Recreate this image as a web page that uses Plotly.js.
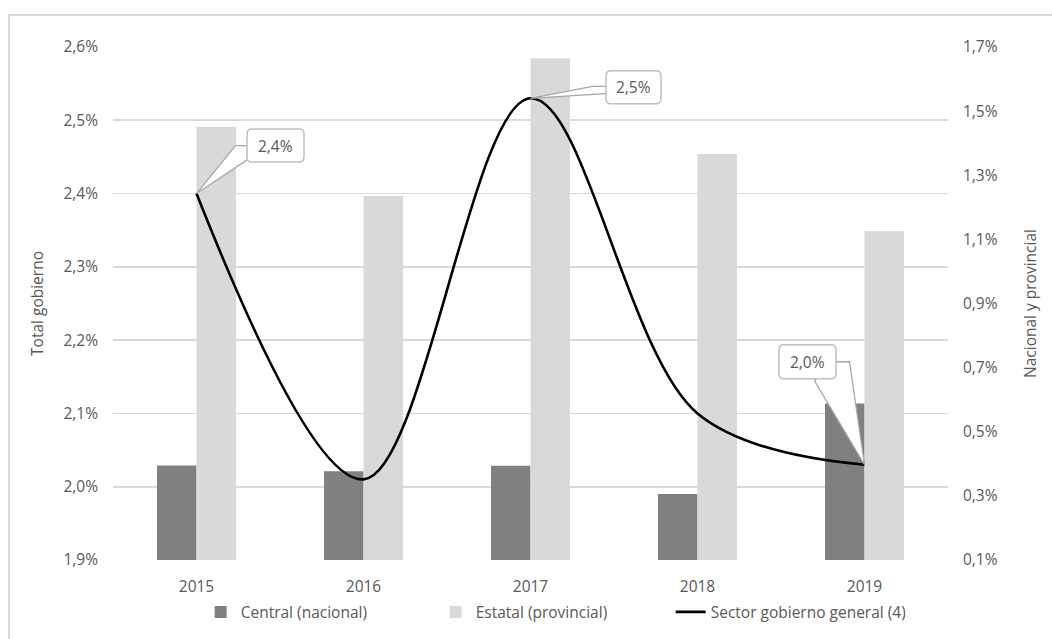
<!DOCTYPE html>
<html>
<head>
<meta charset="utf-8">
<script src="https://cdn.plot.ly/plotly-3.0.1.min.js"></script>
<style>
  html, body { margin: 0; padding: 0; background: #fff; overflow: hidden; width: 1052px; height: 639px; }
  #frame { position: absolute; left: 8px; top: 14px; width: 1100px; height: 700px; border: 2px solid #d9d9d9; box-sizing: border-box; }
  #chart { position: absolute; left: 0; top: 0; width: 1052px; height: 639px; }
</style>
</head>
<body>
<div id="frame"></div>
<div id="chart"></div>
<script>
// Gasto por nivel de gobierno, % del PIB
const years = ['2015', '2016', '2017', '2018', '2019'];
const central = [0.395, 0.377, 0.394, 0.306, 0.588];   // Central (nacional), eje derecho
const estatal = [1.451, 1.235, 1.665, 1.366, 1.126];   // Estatal (provincial), eje derecho
const general = [2.40, 2.01, 2.53, 2.10, 2.03];        // Sector gobierno general, eje izquierdo
const labelledPoints = [0, 2, 4];

// Callout geometry, pixels relative to each labelled point (y up)
const calloutBox = [
  { dx: 79, dy: 48, w: 57, h: 33 },
  { dx: 103, dy: 11, w: 55, h: 33 },
  { dx: -57, dy: 103, w: 57, h: 34 }
];
const calloutWedge = [
  [[0, 0], [39, 48], [54, 48], [54, 36]],
  [[0, 0], [62, 12], [78, 12], [78, 5]],
  [[0, 0], [-15, 103], [-32, 103], [-50, 84]]
];

const textColor = '#595959';
const fontFamily = '"Open Sans", "Noto Sans", sans-serif';
const fontSize = 15.5;

function fmtPct(v) { return v.toFixed(1).replace('.', ',') + '%'; }

function roundedRect(cx, cy, w, h, r) {
  const l = cx - w / 2, rt = cx + w / 2, t = cy + h / 2, b = cy - h / 2;
  return 'M' + (l + r) + ',' + t +
    ' L' + (rt - r) + ',' + t + ' Q' + rt + ',' + t + ' ' + rt + ',' + (t - r) +
    ' L' + rt + ',' + (b + r) + ' Q' + rt + ',' + b + ' ' + (rt - r) + ',' + b +
    ' L' + (l + r) + ',' + b + ' Q' + l + ',' + b + ' ' + l + ',' + (b + r) +
    ' L' + l + ',' + (t - r) + ' Q' + l + ',' + t + ' ' + (l + r) + ',' + t + ' Z';
}

const traces = [
  {
    type: 'bar', name: 'Central (nacional)', x: years, y: central,
    yaxis: 'y', marker: { color: '#808080' }, hoverinfo: 'skip'
  },
  {
    type: 'bar', name: 'Estatal (provincial)', x: years, y: estatal,
    yaxis: 'y', marker: { color: '#d9d9d9' }, hoverinfo: 'skip'
  },
  {
    type: 'scatter', mode: 'lines', name: 'Sector gobierno general (4)', x: years, y: general,
    yaxis: 'y2', line: { color: '#000000', width: 2.6, shape: 'spline', smoothing: 1 }, hoverinfo: 'skip'
  }
];

const shapes = [];
const annotations = [];
labelledPoints.forEach(function (idx, k) {
  const wedge = calloutWedge[k];
  const box = calloutBox[k];
  shapes.push({
    type: 'path', layer: 'above', xref: 'x', yref: 'y2',
    xsizemode: 'pixel', ysizemode: 'pixel', xanchor: idx, yanchor: general[idx],
    path: 'M' + wedge.map(function (p) { return p[0] + ',' + p[1]; }).join(' L') + ' Z',
    fillcolor: '#ffffff', line: { color: '#a6a6a6', width: 1.3 }
  });
  shapes.push({
    type: 'path', layer: 'above', xref: 'x', yref: 'y2',
    xsizemode: 'pixel', ysizemode: 'pixel', xanchor: idx, yanchor: general[idx],
    path: roundedRect(box.dx, box.dy, box.w, box.h, 5),
    fillcolor: '#ffffff', line: { color: '#bfbfbf', width: 1.5 }
  });
  annotations.push({
    x: idx, y: general[idx], xref: 'x', yref: 'y2',
    text: fmtPct(general[idx]), showarrow: false,
    xshift: box.dx, yshift: box.dy,
    font: { family: fontFamily, size: fontSize, color: textColor }
  });
});

const layout = {
  width: 1052, height: 639,
  paper_bgcolor: 'rgba(0,0,0,0)', plot_bgcolor: 'rgba(0,0,0,0)',
  margin: { l: 113, r: 104, t: 47, b: 79, autoexpand: false },
  separators: ', ',
  font: { family: fontFamily, size: fontSize, color: textColor },
  barmode: 'group', bargap: 0.527, bargroupgap: 0,
  showlegend: true,
  legend: {
    orientation: 'h', x: 0.105, xanchor: 'left', y: -0.102, yanchor: 'middle',
    entrywidth: 190, entrywidthmode: 'pixels',
    font: { family: fontFamily, size: fontSize, color: textColor },
    traceorder: 'normal'
  },
  xaxis: {
    type: 'category', categoryorder: 'array', categoryarray: years,
    range: [-0.5, years.length - 0.5], autorange: false,
    showgrid: false, zeroline: false, showline: false,
    ticks: '', ticklabelstandoff: 15,
    tickfont: { family: fontFamily, size: fontSize, color: textColor }
  },
  yaxis: {
    side: 'right', range: [0.1, 1.7], tick0: 0.1, dtick: 0.2,
    tickformat: '.1f', ticksuffix: '%',
    showgrid: false, zeroline: false, showline: false, ticks: '',
    ticklabelstandoff: 14,
    tickfont: { family: fontFamily, size: fontSize, color: textColor },
    title: { text: 'Nacional y provincial', standoff: 28, font: { family: fontFamily, size: fontSize, color: textColor } }
  },
  yaxis2: {
    side: 'left', overlaying: 'y', range: [1.9, 2.6], tick0: 1.9, dtick: 0.1,
    tickformat: '.1f', ticksuffix: '%',
    showgrid: true, gridcolor: '#d9d9d9', gridwidth: 1.8,
    zeroline: false, showline: false, ticks: '',
    ticklabelstandoff: 14,
    tickfont: { family: fontFamily, size: fontSize, color: textColor },
    title: { text: 'Total gobierno', standoff: 16, font: { family: fontFamily, size: fontSize, color: textColor } }
  },
  shapes: shapes,
  annotations: annotations
};

Plotly.newPlot('chart', traces, layout, { displayModeBar: false, staticPlot: true });
</script>
</body>
</html>
